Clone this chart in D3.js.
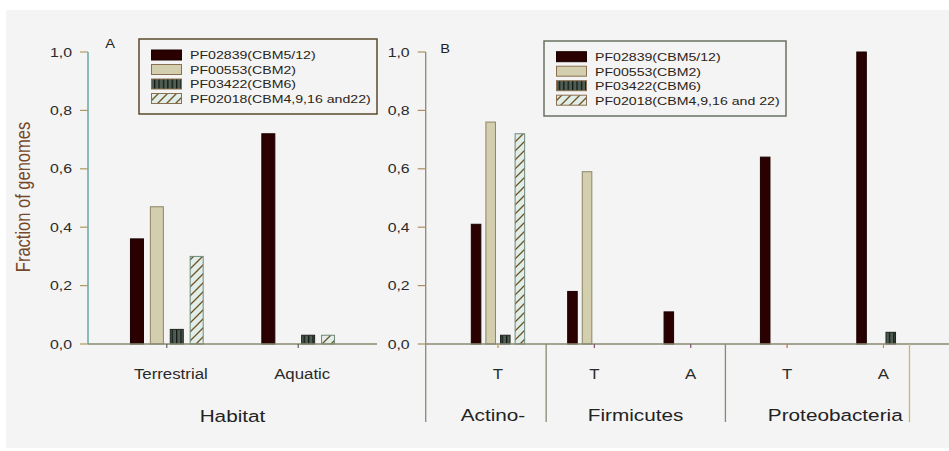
<!DOCTYPE html>
<html>
<head>
<meta charset="utf-8">
<script src="https://cdn.jsdelivr.net/npm/d3@7/dist/d3.min.js"></script>
<style>
  html, body { margin: 0; padding: 0; background: #ffffff; }
  svg { display: block; font-family: "Liberation Sans", Arial, sans-serif; }
</style>
</head>
<body>
<svg id="chart" width="949" height="451"></svg>
<script>
// ---- data ----
const seriesNamesA = ["PF02839(CBM5/12)", "PF00553(CBM2)", "PF03422(CBM6)", "PF02018(CBM4,9,16 and22)"];
const seriesNamesB = ["PF02839(CBM5/12)", "PF00553(CBM2)", "PF03422(CBM6)", "PF02018(CBM4,9,16 and 22)"];

// Panel A: habitat
const habitatCats = ["Terrestrial", "Aquatic"];
const pf02839A = [0.36, 0.72];
const pf00553A = [0.47, 0.00];
const pf03422A = [0.05, 0.03];
const pf02018A = [0.30, 0.03];

// Panel B: phylum x habitat (T = terrestrial, A = aquatic)
const phylumCats = ["T", "T", "A", "T", "A"];
const phylumGroups = ["Actino-", "Firmicutes", "Proteobacteria"];
const phylumGroupOf = [0, 1, 1, 2, 2];
const pf02839B = [0.41, 0.18, 0.11, 0.64, 1.00];
const pf00553B = [0.76, 0.59, 0.00, 0.00, 0.00];
const pf03422B = [0.03, 0.00, 0.00, 0.00, 0.04];
const pf02018B = [0.72, 0.00, 0.00, 0.00, 0.00];

const yTicks = [0, 0.2, 0.4, 0.6, 0.8, 1.0];
const yTickLabels = ["0,0", "0,2", "0,4", "0,6", "0,8", "1,0"];

// ---- styling ----
const SX = 1.22; // horizontal text stretch
const fills   = ["#2b0000", "#d3cfae", "url(#stripes)", "url(#hatch)"];
const strokes = ["#1a0000", "#8c8466", "#1e221e", "#6f8a7c"];
const axisCol = "#8a8a72";

const svg = d3.select("#chart");

// patterns
const defs = svg.append("defs");
const st = defs.append("pattern").attr("id", "stripes").attr("patternUnits", "userSpaceOnUse")
  .attr("width", 4.4).attr("height", 10);
st.append("rect").attr("width", 4.4).attr("height", 10).attr("fill", "#4e5e52");
st.append("rect").attr("x", 0).attr("width", 1.3).attr("height", 10).attr("fill", "#141814");

const ht = defs.append("pattern").attr("id", "hatch").attr("patternUnits", "userSpaceOnUse")
  .attr("width", 9).attr("height", 9);
ht.append("rect").attr("width", 9).attr("height", 9).attr("fill", "#e0ede8");
ht.append("path").attr("d", "M0,9 L9,0 M-1,1 L1,-1 M8,10 L10,8")
  .attr("stroke", "#6e5424").attr("stroke-width", 1.3);

// background panel
svg.append("rect").attr("x", 6).attr("y", 10).attr("width", 943).attr("height", 438).attr("fill", "#f4f4f4");

function label(sel, x, y, str, size, anchor, color) {
  return sel.append("text")
    .attr("transform", `translate(${x},${y}) scale(${SX},1)`)
    .attr("text-anchor", anchor || "middle")
    .attr("font-size", size)
    .attr("fill", color || "#222")
    .text(str);
}

const y = d3.scaleLinear().domain([0, 1]).range([344, 52]);

function yAxis(x0, lineCol, tickCol, yBottom) {
  const g = svg.append("g");
  g.append("line").attr("x1", x0).attr("x2", x0).attr("y1", y(1)).attr("y2", yBottom)
    .attr("stroke", lineCol).attr("stroke-width", 1.3);
  yTicks.forEach((t, i) => {
    g.append("line").attr("x1", x0 - 8).attr("x2", x0).attr("y1", y(t)).attr("y2", y(t))
      .attr("stroke", tickCol).attr("stroke-width", 1.2);
    label(g, x0 - 16, y(t) + 4.6, yTickLabels[i], 13, "end", "#2a2a2a");
  });
}

function bars(x, values, step) {
  const pitch = step * 0.1515, w = step * 0.099;
  values.forEach((vals, s) => {
    vals.forEach((v, i) => {
      if (v <= 0) return;
      const cx = x(i + 1) + pitch * (s - 1.5);
      svg.append("rect")
        .attr("x", cx - w / 2).attr("y", y(v))
        .attr("width", w).attr("height", y(0) - y(v))
        .attr("fill", fills[s]).attr("stroke", strokes[s]).attr("stroke-width", 1);
    });
  });
}

function legend(x0, y0, w, h, rowY, names, border) {
  const g = svg.append("g");
  g.append("rect").attr("x", x0).attr("y", y0).attr("width", w).attr("height", h)
    .attr("fill", "none").attr("stroke", border).attr("stroke-width", 1.5);
  names.forEach((n, i) => {
    const cy = rowY + i * 14.5;
    g.append("rect").attr("x", x0 + 12.5).attr("y", cy - 5).attr("width", 30).attr("height", 10)
      .attr("fill", fills[i]).attr("stroke", i === 0 ? strokes[0] : "#8a7050").attr("stroke-width", 1);
    label(g, x0 + 51, cy + 4.3, n, 11.6, "start", "#2a2418");
  });
}

// ---- Panel A ----
const xA = d3.scaleLinear().domain([0.4, 2.6]).range([88, 377]);
const stepA = xA(2) - xA(1);
bars(xA, [pf02839A, pf00553A, pf03422A, pf02018A], stepA);
svg.append("line").attr("x1", 88).attr("x2", 377).attr("y1", y(0)).attr("y2", y(0))
  .attr("stroke", axisCol).attr("stroke-width", 1.3);
habitatCats.forEach((c, i) => {
  svg.append("line").attr("x1", xA(i + 1)).attr("x2", xA(i + 1)).attr("y1", y(0)).attr("y2", y(0) + 4)
    .attr("stroke", "#444").attr("stroke-width", 1);
  label(svg, xA(i + 1) + 4, 379, c, 13.8, "middle", "#2a2a2a");
});
yAxis(88, "#4f9c9c", "#b09a62", y(0));
label(svg, (xA.range()[0] + xA.range()[1]) / 2, 422, "Habitat", 17, "middle", "#222");
label(svg, 110, 48, "A", 12, "middle", "#222");
svg.append("text")
  .attr("transform", `translate(30,197) rotate(-90) scale(1,${SX})`)
  .attr("text-anchor", "middle").attr("font-size", 16.5).attr("fill", "#74482a")
  .text("Fraction of genomes");
legend(139, 39, 238, 75, 55, seriesNamesA, "#5a4a2c");

// ---- Panel B ----
const xB = d3.scaleLinear().domain([0.25, 5.68]).range([425.7, 949]);
const stepB = xB(2) - xB(1);
bars(xB, [pf02839B, pf00553B, pf03422B, pf02018B], stepB);
svg.append("line").attr("x1", xB.range()[0]).attr("x2", xB.range()[1]).attr("y1", y(0)).attr("y2", y(0))
  .attr("stroke", axisCol).attr("stroke-width", 1.3);
const tickCols = ["#c09040", "#805070", "#805070", "#c07050", "#c09040"];
phylumCats.forEach((c, i) => {
  svg.append("line").attr("x1", xB(i + 1)).attr("x2", xB(i + 1)).attr("y1", y(0)).attr("y2", y(0) + 4)
    .attr("stroke", tickCols[i]).attr("stroke-width", 1.2);
  label(svg, xB(i + 1), 379, c, 13.8, "middle", "#2a2a2a");
});
// group separators below the axis
const separators = [1.5, 3.36, 5.27];
separators.forEach((s, i) => {
  svg.append("line").attr("x1", xB(s)).attr("x2", xB(s)).attr("y1", y(0)).attr("y2", 422)
    .attr("stroke", i === 2 ? "#c8b474" : axisCol).attr("stroke-width", 1.3);
});
phylumGroups.forEach((g, gi) => {
  const idx = phylumGroupOf.map((v, i) => v === gi ? i + 1 : null).filter(v => v !== null);
  label(svg, xB(d3.mean(idx)) - (gi === 0 ? 5 : gi === 1 ? 7 : 0), 421, g, 17, "middle", "#222");
});
yAxis(425.7, axisCol, "#a89060", 422);
label(svg, 445, 53, "B", 12, "middle", "#222");
legend(544, 41, 242, 75, 56.7, seriesNamesB, "#6a7060");
</script>
</body>
</html>
